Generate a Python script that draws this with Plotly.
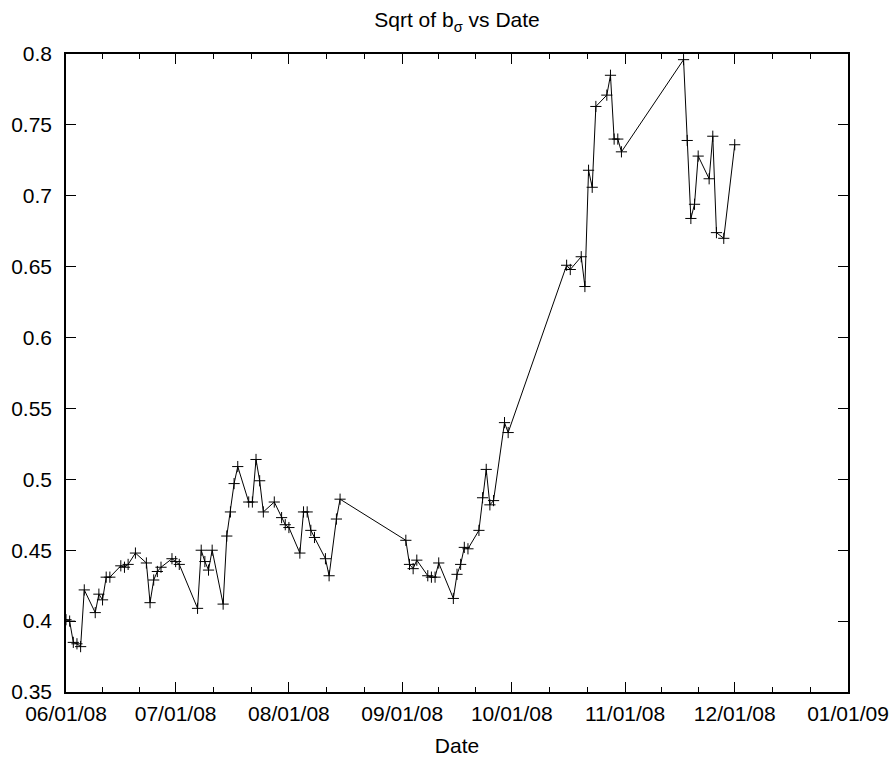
import plotly.graph_objects as go
from datetime import datetime

# ---- data ----
dates = [
    "2008-06-01", "2008-06-02", "2008-06-03", "2008-06-04", "2008-06-05", "2008-06-06",
    "2008-06-09", "2008-06-10", "2008-06-11", "2008-06-12", "2008-06-13",
    "2008-06-16", "2008-06-17", "2008-06-18", "2008-06-20",
    "2008-06-23", "2008-06-24", "2008-06-25", "2008-06-26", "2008-06-27",
    "2008-06-30", "2008-07-01", "2008-07-02",
    "2008-07-07", "2008-07-08", "2008-07-09", "2008-07-10", "2008-07-11",
    "2008-07-14", "2008-07-15", "2008-07-16", "2008-07-17", "2008-07-18",
    "2008-07-21", "2008-07-22", "2008-07-23", "2008-07-24", "2008-07-25",
    "2008-07-28", "2008-07-30", "2008-07-31", "2008-08-01",
    "2008-08-04", "2008-08-05", "2008-08-06", "2008-08-07", "2008-08-08",
    "2008-08-11", "2008-08-12", "2008-08-14", "2008-08-15",
    "2008-09-02", "2008-09-03", "2008-09-04", "2008-09-05",
    "2008-09-08", "2008-09-09", "2008-09-10", "2008-09-11",
    "2008-09-15", "2008-09-16", "2008-09-17", "2008-09-18", "2008-09-19",
    "2008-09-22", "2008-09-23", "2008-09-24", "2008-09-25", "2008-09-26",
    "2008-09-29", "2008-09-30",
    "2008-10-16", "2008-10-17",
    "2008-10-20", "2008-10-21", "2008-10-22", "2008-10-23", "2008-10-24",
    "2008-10-27", "2008-10-28", "2008-10-29", "2008-10-30", "2008-10-31",
    "2008-11-17", "2008-11-18", "2008-11-19", "2008-11-20", "2008-11-21",
    "2008-11-24", "2008-11-25", "2008-11-26", "2008-11-28",
    "2008-12-01",
]
sqrt_b_sigma = [
    0.401, 0.400, 0.385, 0.384, 0.382, 0.422,
    0.406, 0.419, 0.415, 0.431, 0.431,
    0.439, 0.438, 0.440, 0.448,
    0.441, 0.413, 0.429, 0.435, 0.438,
    0.444, 0.442, 0.440,
    0.409, 0.450, 0.442, 0.436, 0.450,
    0.412, 0.460, 0.477, 0.497, 0.509,
    0.484, 0.484, 0.514, 0.499, 0.477,
    0.484, 0.473, 0.468, 0.466,
    0.448, 0.477, 0.477, 0.464, 0.459,
    0.444, 0.432, 0.472, 0.486,
    0.457, 0.440, 0.437, 0.443,
    0.432, 0.431, 0.431, 0.441,
    0.416, 0.433, 0.440, 0.452, 0.451,
    0.464, 0.487, 0.507, 0.482, 0.485,
    0.540, 0.533,
    0.651, 0.648,
    0.657, 0.636, 0.718, 0.706, 0.763,
    0.771, 0.785, 0.740, 0.740, 0.731,
    0.796, 0.739, 0.684, 0.694, 0.728,
    0.712, 0.742, 0.674, 0.670,
    0.736,
]
month_ticks = ["2008-06-01", "2008-07-01", "2008-08-01", "2008-09-01",
               "2008-10-01", "2008-11-01", "2008-12-01", "2009-01-01"]
y_ticks = [0.35, 0.4, 0.45, 0.5, 0.55, 0.6, 0.65, 0.7, 0.75, 0.8]

# minor x ticks: thirds of each month interval
minor_vals = []
for a, b in zip(month_ticks[:-1], month_ticks[1:]):
    da = datetime.fromisoformat(a)
    db = datetime.fromisoformat(b)
    for k in (1, 2):
        minor_vals.append((da + (db - da) * k / 3).isoformat())

FONT = "Liberation Sans, Arial, Helvetica, sans-serif"

fig = go.Figure()
fig.add_trace(go.Scatter(
    x=dates, y=sqrt_b_sigma, mode="lines+markers",
    line=dict(color="black", width=1),
    marker=dict(symbol="cross-thin", size=8, color="black",
                line=dict(color="black", width=1)),
    showlegend=False,
))

fig.update_layout(
    width=891, height=757,
    margin=dict(l=66, r=43, t=54, b=65),
    paper_bgcolor="white", plot_bgcolor="white",
    font=dict(family=FONT, size=21, color="black"),
    title=dict(text="Sqrt of b<sub>σ</sub> vs Date", x=0.5, xref="paper",
               xanchor="center", y=1 - 20 / 757, yref="container",
               yanchor="middle", font=dict(family=FONT, size=21, color="black")),
    showlegend=False,
)

fig.update_xaxes(
    type="date", range=[month_ticks[0], month_ticks[-1]],
    tickmode="array", tickvals=month_ticks,
    ticktext=[datetime.fromisoformat(t).strftime("%m/%d/%y") for t in month_ticks],
    ticks="inside", ticklen=10, tickwidth=1, tickcolor="black",
    showline=True, linecolor="black", linewidth=1.5, mirror="ticks",
    showgrid=False, zeroline=False, automargin=False,
    ticklabelstandoff=2,
    minor=dict(tickmode="array", tickvals=minor_vals, ticks="inside",
               ticklen=5, tickwidth=1, tickcolor="black", showgrid=False),
    title=dict(text="Date", standoff=15, font=dict(family=FONT, size=21)),
)
fig.update_yaxes(
    range=[0.35, 0.8], tickmode="array", tickvals=y_ticks,
    ticktext=[f"{v:g}" for v in y_ticks],
    ticks="inside", ticklen=10, tickwidth=1, tickcolor="black",
    showline=True, linecolor="black", linewidth=1.5, mirror="ticks",
    showgrid=False, zeroline=False, automargin=False,
    ticklabelstandoff=8,
)

fig.write_html(
    "out.html",
    config={"displayModeBar": False},
    post_script="document.body.style.margin='0';document.body.style.overflow='hidden';",
)
